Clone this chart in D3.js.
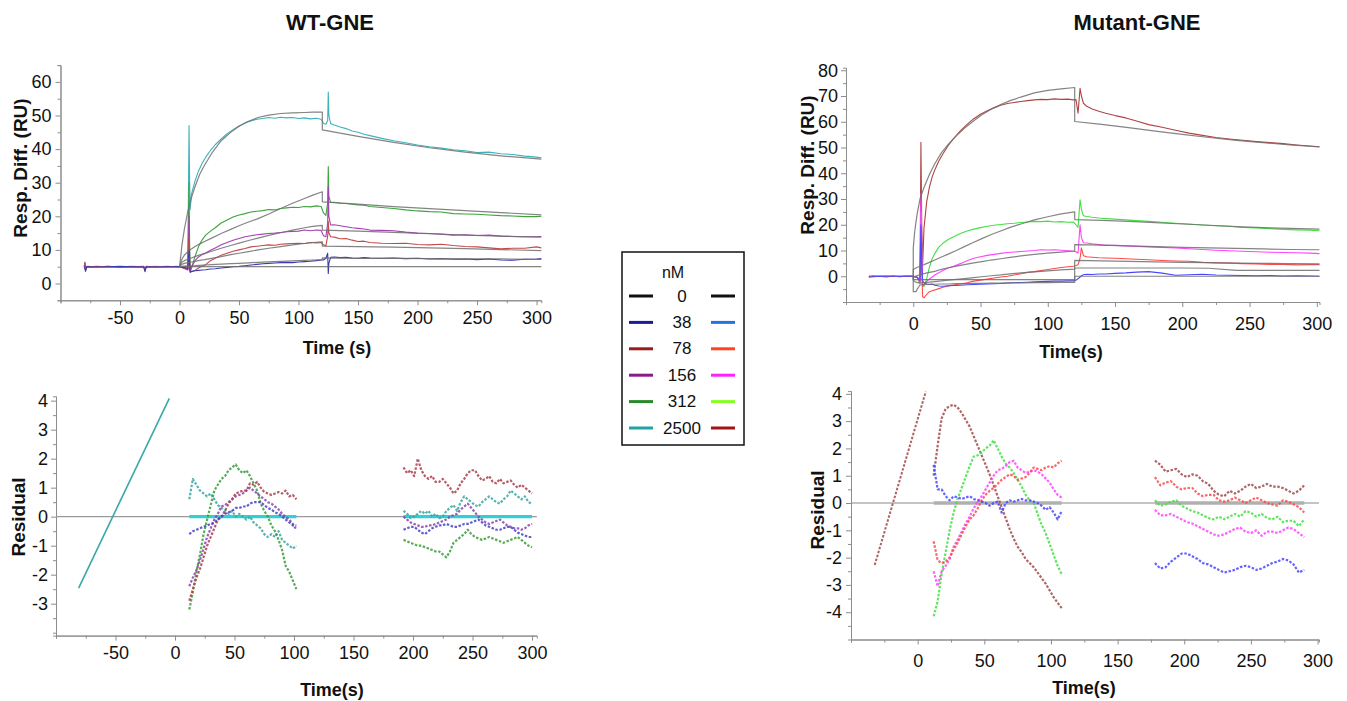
<!DOCTYPE html>
<html>
<head>
<meta charset="utf-8">
<script src="https://cdn.jsdelivr.net/npm/d3@7"></script>
<style>
  body { margin: 0; background: #fff; }
  svg { display: block; font-family: Arial, "Liberation Sans", sans-serif; }
</style>
</head>
<body>
<svg id="chart" width="1347" height="701"></svg>
<script>
// ---- legend ----
const conc = ["0", "38", "78", "156", "312", "2500"];
const wtLegendColors = ["#111111", "#1c1c96", "#981c1c", "#8a1c8a", "#2a8a2a", "#1fa3a3"];
const mtLegendColors = ["#111111", "#2275e0", "#ff4422", "#ff22ff", "#88ff22", "#a01414"];

// ---- WT-GNE sensorgrams (time in s, response in RU) ----
const wtTime = [-80, -79.5, -79, -78, -70, -60, -50, -40, -30, -29, -28, -20, -10, -2, 0,
  4, 7, 8, 8.5, 9, 10,
  13, 16, 19, 22, 26, 30,
  35, 40, 45, 50, 55, 60,
  65, 70, 75, 80, 85, 90,
  95, 100, 105, 110, 115, 119,
  121, 123, 124.5, 125, 125.5, 127,
  130, 135, 140, 145, 150, 155,
  160, 170, 180, 190, 200, 210,
  220, 230, 240, 250, 260, 270,
  280, 290, 300, 304];
const wt2500 = [5.2, 6.4, 3.9, 5.0, 4.9, 5.1, 4.8, 5.0, 4.9, 3.8, 5.0, 5.1, 4.9, 5.0, 5.1,
  5.0, 5.3, 47.0, 30.0, 22.0, 26.5,
  30.5, 33.5, 35.8, 37.6, 39.6, 41.3,
  43.0, 44.6, 45.8, 46.9, 47.8, 48.4,
  48.9, 49.1, 49.4, 49.2, 49.5, 49.3,
  49.4, 49.1, 49.3, 49.0, 49.2, 48.9,
  47.6, 47.4, 48.5, 57.0, 50.0, 47.6,
  47.2, 46.6, 46.1, 45.4, 45.0, 44.4,
  44.0, 43.2, 42.5, 41.9, 41.2, 40.7,
  40.3, 39.8, 39.5, 39.0, 39.1, 38.6,
  38.4, 37.9, 37.6, 37.4];
const wt312 = [5.0, 6.0, 4.1, 5.1, 5.0, 4.9, 5.0, 5.1, 5.0, 4.0, 5.1, 4.9, 5.0, 5.1, 5.0,
  4.6, 4.2, 30.0, 12.0, 3.8, 4.5,
  8.0, 11.0, 13.0, 14.4, 15.6, 16.6,
  18.0, 18.9, 19.8, 20.4, 20.8, 21.3,
  21.5, 21.7, 22.0, 21.9, 22.3, 22.5,
  22.7, 22.6, 22.9, 22.8, 23.1, 22.9,
  21.0, 20.3, 24.0, 34.8, 26.0, 24.1,
  24.2, 23.9, 23.8, 23.6, 23.4, 23.3,
  22.9, 22.6, 22.3, 21.9, 21.6, 21.4,
  21.3, 20.8, 20.7, 20.6, 20.4, 20.2,
  20.1, 19.9, 19.9, 20.0];
const wt156 = [4.9, 5.8, 4.2, 5.0, 5.0, 5.1, 4.9, 5.0, 5.1, 4.1, 5.0, 5.0, 5.1, 4.9, 5.0,
  4.5, 4.0, 20.0, 8.0, 3.6, 4.8,
  6.8, 7.9, 8.6, 9.1, 9.9, 10.6,
  11.5, 12.2, 12.9, 13.4, 13.9, 14.2,
  14.5, 14.7, 14.9, 15.0, 15.2, 15.4,
  15.5, 15.6, 15.9, 15.7, 15.9, 15.8,
  14.2, 13.9, 18.0, 28.8, 20.0, 17.4,
  17.5, 17.2, 16.9, 16.6, 16.4, 16.2,
  15.9, 15.8, 15.7, 15.3, 15.0, 14.9,
  14.7, 14.4, 14.5, 14.3, 14.4, 14.1,
  14.0, 13.9, 13.9, 14.0];
const wt78 = [5.0, 6.2, 3.8, 4.9, 5.1, 5.0, 5.0, 4.9, 5.0, 3.9, 4.9, 5.0, 5.0, 5.0, 4.9,
  4.6, 4.3, 14.0, 6.0, 3.4, 3.5,
  3.9, 4.6, 5.2, 5.6, 6.8, 7.5,
  8.4, 9.0, 9.6, 10.0, 10.4, 10.9,
  11.1, 11.3, 11.5, 11.4, 11.7, 11.8,
  11.9, 12.0, 11.9, 12.2, 12.1, 12.2,
  11.5, 11.2, 14.0, 18.5, 15.0, 13.9,
  13.8, 13.3, 13.4, 12.9, 12.5, 12.6,
  12.2, 12.0, 11.9, 12.0, 11.6, 11.5,
  11.7, 11.3, 11.0, 10.9, 10.6, 10.3,
  10.5, 10.5, 10.9, 10.6];
const wt38 = [5.1, 4.5, 3.6, 5.0, 4.9, 5.0, 5.1, 5.0, 4.9, 3.5, 5.0, 4.9, 5.0, 5.0, 5.0,
  4.8, 4.5, 10.0, 5.0, 3.3, 3.6,
  3.8, 3.9, 4.0, 4.1, 4.3, 4.4,
  4.6, 4.8, 5.0, 5.1, 5.3, 5.5,
  5.7, 5.9, 6.0, 6.1, 6.2, 6.3,
  6.2, 6.4, 6.5, 6.6, 6.8, 7.0,
  7.0, 7.5, 9.0, 3.0, 6.0, 7.8,
  7.9, 7.7, 7.8, 7.6, 7.5, 7.7,
  7.6, 7.5, 7.6, 7.4, 7.5, 7.3,
  7.4, 7.2, 7.3, 7.1, 7.3, 7.0,
  6.9, 7.2, 7.3, 7.4];

// WT fitted curves
const wtFitTime = [0, 1, 2, 4, 7, 10, 13, 17, 21, 27, 35, 43, 50, 58, 66, 75, 85, 95, 105, 112, 120, 120, 150, 180, 210, 240, 270, 304];
const wtFit2500 = [5, 8, 11.3, 16, 21.5, 25.5, 28.8, 32.5, 35.2, 38.7, 42.5, 45.0, 46.8, 48.3, 49.4, 50.1, 50.6, 50.8, 50.9, 51.0, 51.0, 45.7, 43.8, 42.0, 40.4, 39.1, 38.0, 37.0];
const wtFit312 = [5, 6.2, 7.2, 8.4, 9.5, 10.3, 11.0, 11.8, 12.5, 13.5, 14.9, 16.1, 17.2, 18.3, 19.3, 20.7, 22.3, 23.9, 25.3, 26.3, 27.3, 24.3, 23.6, 22.9, 22.3, 21.7, 21.1, 20.4];
const wtFit156 = [5, 5.8, 6.3, 6.8, 7.2, 7.6, 8.0, 8.5, 8.9, 9.6, 10.5, 11.3, 12.0, 12.8, 13.5, 14.3, 15.1, 15.9, 16.6, 17.0, 17.3, 15.9, 15.6, 15.2, 14.8, 14.4, 14.1, 13.8];
const wtFit78 = [5, 5.4, 5.7, 6.0, 6.2, 6.4, 6.6, 6.9, 7.1, 7.5, 8.0, 8.6, 9.0, 9.5, 10.0, 10.5, 11.0, 11.5, 11.9, 12.2, 12.4, 11.1, 11.0, 10.8, 10.6, 10.4, 10.1, 9.8];
const wtFit38 = [5, 5.05, 5.1, 5.15, 5.2, 5.25, 5.3, 5.4, 5.5, 5.6, 5.75, 5.9, 6.0, 6.15, 6.3, 6.45, 6.6, 6.75, 6.9, 7.0, 7.1, 7.6, 7.5, 7.45, 7.4, 7.35, 7.3, 7.2];
const wtFit0 = [5, 5, 5, 5, 5, 5, 5, 5, 5, 5, 5, 5, 5, 5, 5, 5, 5, 5, 5, 5, 5, 5, 5, 5, 5, 5, 5, 5];

// ---- Mutant-GNE sensorgrams ----
const mtTime = [-33, -30, -25, -20, -15, -10, -5, 0,
  3, 5, 5.7, 6.3, 7, 8,
  10, 12, 14, 16, 19, 22,
  26, 30, 35, 40, 45, 50,
  55, 60, 65, 70, 75, 80,
  85, 90, 95, 100, 105, 110,
  115, 119, 121, 122.5, 124, 125,
  126.5, 129, 133, 138, 143, 150,
  158, 166, 175, 185, 195, 205,
  215, 225, 235, 245, 255, 265,
  275, 285, 295, 302];
const mt2500 = [-0.3, 0.2, -0.1, 0.1, 0.0, -0.2, 0.1, 0.0,
  -0.5, -2.0, 52.0, 20.0, 5.0, 18.8,
  29.0, 34.5, 38.5, 41.3, 44.8, 47.5,
  50.8, 53.5, 56.5, 59.0, 61.2, 62.9,
  64.3, 65.4, 66.4, 67.1, 67.5, 67.9,
  68.2, 68.5, 68.7, 68.6, 68.9, 68.7,
  68.8, 68.5, 68.6, 63.3, 73.0, 70.0,
  67.2, 66.0, 65.0, 64.1, 63.3, 62.4,
  61.5, 60.3, 58.9, 57.9, 56.7, 55.6,
  54.7, 53.9, 53.3, 52.8, 52.3, 51.9,
  51.5, 51.0, 50.6, 50.3];
const mt312 = [0.1, -0.2, 0.0, 0.2, -0.1, 0.0, 0.1, 0.0,
  -0.5, -3.0, 25.0, 10.0, -3.5, -4.0,
  -1.0, 3.5, 6.8, 8.8, 11.3, 12.8,
  14.3, 15.3, 16.6, 17.6, 18.3, 18.9,
  19.4, 19.8, 20.1, 20.4, 20.6, 20.9,
  21.1, 21.3, 21.2, 21.4, 21.1, 21.2,
  21.0, 21.1, 20.0, 19.0, 29.7, 26.0,
  23.5, 23.2, 22.9, 22.6, 22.4, 22.2,
  21.9, 21.6, 21.3, 21.0, 20.6, 20.3,
  19.9, 19.6, 19.4, 19.0, 18.8, 18.5,
  18.2, 18.0, 17.9, 17.7];
const mt156 = [0.0, 0.1, -0.1, 0.0, 0.1, -0.1, 0.0, 0.0,
  -0.3, -2.5, 32.0, 12.0, -4.0, -3.2,
  -2.0, -1.0, -0.4, 0.5, 1.4, 2.2,
  3.2, 3.9, 4.9, 6.0, 7.0, 7.6,
  8.1, 8.5, 8.9, 9.2, 9.4, 9.6,
  9.8, 10.0, 10.3, 10.2, 10.3, 10.1,
  9.9, 9.7, 9.5, 9.0, 20.0, 15.0,
  13.0, 12.9, 12.6, 12.3, 12.0, 12.0,
  11.8, 11.6, 11.4, 11.2, 11.0, 10.7,
  10.4, 10.1, 9.9, 9.7, 9.5, 9.3,
  9.2, 9.1, 9.0, 8.8];
const mt78 = [0.0, -0.1, 0.1, 0.0, -0.1, 0.1, 0.0, 0.0,
  -0.4, -2.0, 12.0, 2.0, -8.0, -8.4,
  -7.0, -6.0, -5.6, -5.3, -4.8, -4.3,
  -3.8, -3.4, -3.0, -2.5, -1.9, -1.5,
  -1.1, -0.7, -0.3, 0.0, 0.5, 1.0,
  1.5, 1.8, 2.2, 2.6, 3.0, 3.4,
  3.7, 3.9, 4.2, 4.5, 7.0, 11.0,
  8.0, 7.6, 7.4, 7.2, 7.1, 7.0,
  6.8, 6.6, 6.4, 6.1, 5.9, 5.8,
  5.4, 5.2, 5.1, 4.9, 4.8, 4.6,
  4.6, 4.4, 4.5, 4.5];
const mt38 = [-0.4, -0.2, 0.0, -0.3, 0.1, -0.1, 0.0, 0.0,
  -0.5, -1.5, 20.0, 5.0, -1.9, -2.5,
  -3.0, -3.2, -3.0, -3.5, -3.8, -3.9,
  -3.7, -3.6, -3.5, -3.3, -3.2, -3.1,
  -3.0, -2.9, -2.8, -2.6, -2.5, -2.4,
  -2.3, -2.2, -2.1, -2.0, -1.9, -1.9,
  -1.8, -1.8, -1.5, -1.0, -0.3, 0.2,
  0.6, 0.8, 0.7, 0.9, 0.9, 1.1,
  1.3, 1.6, 1.8, 1.2, 0.4, 0.6,
  0.8, 0.5, 0.4, 0.3, 0.2, 0.3,
  0.1, 0.2, 0.1, 0.0];

// Mutant fitted curves
const mtFitTime = [0, 0, 1, 2, 3, 5, 8, 12, 16, 21, 26, 32, 38, 45, 51, 58, 65, 72, 80, 90, 100, 110, 120, 120, 140, 160, 180, 200, 220, 240, 260, 280, 302];
const mtFit2500 = [0, 11, 17, 21, 24.5, 30, 34.5, 39.5, 43.7, 48, 51.2, 54.5, 57.5, 60.4, 62.7, 64.9, 66.7, 68.2, 69.6, 71.2, 72.2, 72.8, 73.3, 60.1, 59.0, 57.7, 56.4, 55.1, 53.9, 52.8, 51.9, 51.0, 50.2];
const mtFit312 = [0, 2.6, 2.9, 3.2, 3.5, 3.9, 4.5, 5.4, 6.3, 7.5, 8.6, 10.0, 11.5, 13.2, 14.6, 16.2, 17.6, 19.0, 20.3, 21.9, 23.1, 24.2, 25.0, 22.0, 21.7, 21.3, 20.8, 20.3, 19.8, 19.3, 18.9, 18.6, 18.3];
const mtFit156 = [0, -0.5, -0.2, 0.1, 0.3, 0.6, 1.0, 1.5, 1.9, 2.7, 3.3, 3.9, 4.5, 5.2, 5.7, 6.3, 6.8, 7.3, 7.9, 8.5, 9.0, 9.4, 9.8, 12.3, 12.1, 11.8, 11.5, 11.2, 11.0, 10.8, 10.6, 10.4, 10.3];
const mtFit78 = [0, -1.5, -2.0, -2.3, -2.5, -2.6, -2.5, -2.3, -2.1, -1.8, -1.5, -1.2, -0.9, -0.5, -0.2, 0.2, 0.5, 0.9, 1.3, 1.7, 2.1, 2.5, 2.8, 6.2, 6.0, 5.8, 5.6, 5.4, 5.3, 5.1, 5.0, 4.9, 4.8];
const mtFit38 = [0, -6.0, -6.0, -6.0, -5.0, -3.4, -3.2, -3.1, -3.1, -3.0, -3.0, -2.9, -2.9, -2.8, -2.8, -2.7, -2.7, -2.6, -2.6, -2.5, -2.5, -2.4, -2.4, 3.2, 3.2, 3.2, 3.2, 3.2, 3.1, 2.3, 2.3, 2.3, 2.3];
const mtFit0 = [0, -1.3, -1.3, -1.3, -1.3, -1.3, -1.3, -1.3, -1.3, -1.3, -1.3, -1.3, -1.3, -1.3, -1.3, -1.3, -1.3, -1.3, -1.3, -1.3, -1.3, -1.3, -1.3, 0, 0, 0, 0, 0, 0, 0, 0, 0, 0];

// ---- WT residuals ----
const wtResLineT = [-81, -4.8];
const wtResLine = [-2.46, 4.08];
const wtResAssocT = [12, 15, 18, 21, 24, 27, 30, 33, 36, 39, 42, 45, 48, 51, 54, 57, 60, 63, 66, 69, 72, 75, 78, 81, 84, 87, 90, 93, 96, 99, 102];
const wtResDissT = [192, 195, 198, 201, 204, 207, 210, 213, 216, 219, 222, 225, 228, 231, 234, 237, 240, 243, 246, 249, 252, 255, 258, 261, 264, 267, 270, 273, 276, 279, 282, 285, 288, 291, 294, 297, 300];
const wtResA2500 = [0.6, 1.3, 1.1, 0.9, 0.8, 0.7, 0.8, 0.6, 0.4, 0.3, 0.2, 0.1, 0.2, 0.0, 0.1, 0.0, -0.1, 0.0, -0.2, -0.3, -0.4, -0.6, -0.7, -0.6, -0.7, -0.5, -0.8, -0.9, -1.0, -1.1, -1.0];
const wtResA312 = [-3.2, -2.6, -1.9, -1.3, -0.6, -0.1, 0.4, 0.9, 1.1, 1.3, 1.4, 1.6, 1.7, 1.8, 1.6, 1.5, 1.6, 1.4, 1.15, 0.9, 0.45, 0.2, 0.0, -0.3, -0.5, -0.8, -1.15, -1.7, -1.9, -2.2, -2.5];
const wtResA156 = [-2.4, -2.1, -1.85, -1.5, -1.1, -0.7, -0.4, -0.1, 0.1, 0.35, 0.4, 0.5, 0.6, 0.7, 0.75, 0.8, 0.9, 1.0, 0.9, 0.8, 0.7, 0.6, 0.5, 0.45, 0.35, 0.25, 0.1, 0.0, -0.1, -0.25, -0.45];
const wtResA78 = [-2.9, -2.5, -2.1, -1.8, -1.4, -1.0, -0.7, -0.4, -0.1, 0.0, 0.2, 0.45, 0.6, 0.8, 0.85, 0.9, 0.9, 1.15, 1.1, 1.2, 1.0, 0.85, 0.8, 0.75, 0.8, 0.85, 0.8, 0.9, 0.7, 0.75, 0.6];
const wtResA38 = [-0.6, -0.5, -0.45, -0.4, -0.35, -0.3, -0.25, -0.2, -0.1, 0.0, 0.1, 0.15, 0.2, 0.3, 0.3, 0.35, 0.35, 0.45, 0.5, 0.5, 0.5, 0.4, 0.3, 0.25, 0.15, 0.1, 0.0, -0.1, -0.2, -0.3, -0.3];
const wtResD2500 = [0.2, 0.1, -0.05, 0.0, 0.1, 0.2, 0.1, 0.2, 0.0, 0.1, -0.05, 0.0, 0.2, 0.3, 0.4, 0.2, 0.5, 0.7, 0.6, 0.5, 0.4, 0.35, 0.5, 0.6, 0.7, 0.6, 0.5, 0.45, 0.6, 0.7, 0.9, 0.8, 0.7, 0.6, 0.7, 0.5, 0.45];
const wtResD312 = [-0.8, -0.85, -0.9, -0.95, -1.0, -1.0, -1.05, -1.1, -1.15, -1.2, -1.2, -1.3, -1.4, -1.2, -0.9, -0.8, -0.7, -0.6, -0.45, -0.6, -0.7, -0.75, -0.8, -0.75, -0.7, -0.75, -0.8, -0.85, -0.9, -0.85, -0.8, -0.75, -0.7, -0.8, -0.9, -1.0, -1.05];
const wtResD156 = [0.0, -0.1, -0.2, -0.25, -0.3, -0.35, -0.35, -0.3, -0.3, -0.25, -0.2, -0.15, -0.1, 0.0, 0.05, 0.1, 0.25, 0.35, 0.45, 0.3, 0.15, 0.0, -0.1, -0.2, -0.25, -0.2, -0.15, -0.1, -0.2, -0.3, -0.35, -0.4, -0.4, -0.45, -0.4, -0.3, -0.25];
const wtResD78 = [1.7, 1.5, 1.6, 1.4, 2.0, 1.6, 1.4, 1.3, 1.4, 1.2, 1.2, 1.3, 1.15, 1.0, 0.8, 0.9, 1.15, 1.3, 1.5, 1.6, 1.6, 1.4, 1.25, 1.3, 1.4, 1.2, 1.15, 1.3, 1.15, 1.2, 1.25, 1.1, 1.0, 1.1, 1.0, 0.9, 0.8];
const wtResD38 = [-0.45, -0.4, -0.35, -0.35, -0.45, -0.55, -0.6, -0.5, -0.4, -0.35, -0.3, -0.3, -0.25, -0.3, -0.35, -0.35, -0.3, -0.25, -0.25, -0.2, -0.15, -0.1, -0.2, -0.3, -0.35, -0.4, -0.45, -0.45, -0.4, -0.35, -0.35, -0.45, -0.55, -0.6, -0.65, -0.7, -0.7];

// ---- Mutant residuals ----
const mtResLineT = [-32.2, 6.1];
const mtResLine = [-2.27, 4.08];
const mtResAssocT = [12, 15, 18, 21, 24, 27, 30, 33, 36, 39, 42, 45, 48, 51, 54, 57, 60, 63, 66, 69, 72, 75, 78, 81, 84, 87, 90, 93, 96, 99, 102, 105, 108];
const mtResDissT = [178, 182, 186, 190, 194, 198, 202, 206, 210, 214, 218, 222, 226, 230, 234, 238, 242, 246, 250, 254, 258, 262, 266, 270, 274, 278, 282, 286, 290];
const mtResA2500 = [1.0, 2.1, 3.1, 3.45, 3.55, 3.6, 3.5, 3.3, 3.05, 2.8, 2.45, 2.1, 1.75, 1.4, 1.05, 0.65, 0.25, -0.15, -0.55, -0.95, -1.3, -1.6, -1.8, -2.05, -2.2, -2.35, -2.55, -2.75, -2.95, -3.2, -3.45, -3.65, -3.85];
const mtResA312 = [-4.15, -3.6, -2.6, -1.8, -1.0, -0.35, 0.15, 0.55, 0.95, 1.35, 1.7, 1.75, 1.85, 2.0, 2.1, 2.3, 2.0, 1.7, 1.45, 1.3, 1.1, 0.85, 0.6, 0.3, 0.1, 0.0, -0.4, -0.8, -1.1, -1.5, -1.9, -2.3, -2.6];
const mtResA156 = [-2.5, -3.05, -2.5, -2.3, -2.05, -1.6, -1.35, -1.05, -0.75, -0.5, -0.2, 0.05, 0.25, 0.5, 0.75, 1.0, 1.2, 1.25, 1.35, 1.5, 1.55, 1.3, 1.2, 1.1, 1.15, 1.2, 1.15, 1.05, 0.9, 0.75, 0.5, 0.3, 0.2];
const mtResA78 = [-1.4, -2.1, -2.2, -2.15, -2.0, -1.7, -1.45, -1.15, -0.85, -0.6, -0.45, -0.2, 0.1, 0.3, 0.45, 0.55, 0.7, 0.85, 0.95, 1.05, 1.0, 0.85, 0.9, 0.95, 1.1, 1.3, 1.25, 1.2, 1.3, 1.35, 1.3, 1.45, 1.55];
const mtResA38 = [1.4, 0.5, 0.5, 0.25, 0.1, 0.25, 0.2, 0.15, 0.2, 0.25, 0.15, 0.1, 0.05, 0.0, -0.1, 0.0, 0.05, -0.35, 0.0, 0.1, 0.05, 0.1, 0.15, 0.1, 0.1, 0.05, 0.0, -0.1, -0.25, -0.15, -0.35, -0.6, -0.3];
const mtResD2500 = [1.55, 1.4, 1.15, 1.2, 1.25, 1.05, 0.95, 1.05, 1.0, 0.8, 0.7, 0.45, 0.3, 0.25, 0.45, 0.35, 0.45, 0.6, 0.7, 0.55, 0.6, 0.7, 0.6, 0.6, 0.55, 0.45, 0.35, 0.45, 0.65];
const mtResD312 = [0.1, -0.1, -0.05, 0.05, 0.1, -0.1, -0.2, -0.3, -0.35, -0.45, -0.55, -0.6, -0.5, -0.6, -0.5, -0.4, -0.5, -0.3, -0.35, -0.5, -0.4, -0.55, -0.6, -0.5, -0.7, -0.65, -0.65, -0.85, -0.6];
const mtResD156 = [-0.25, -0.45, -0.45, -0.4, -0.5, -0.6, -0.7, -0.75, -0.85, -0.95, -1.05, -1.15, -1.2, -1.15, -1.05, -0.95, -0.9, -1.05, -1.1, -1.0, -1.2, -1.05, -1.05, -1.1, -1.0, -0.9, -0.95, -1.1, -1.25];
const mtResD78 = [0.95, 0.65, 0.75, 0.8, 0.6, 0.5, 0.55, 0.55, 0.35, 0.25, 0.3, 0.3, 0.1, 0.05, 0.1, 0.2, 0.1, 0.0, 0.1, 0.2, 0.1, 0.0, -0.05, -0.1, 0.1, 0.05, -0.05, -0.15, -0.35];
const mtResD38 = [-2.2, -2.4, -2.35, -2.15, -2.0, -1.85, -1.85, -1.95, -2.05, -2.2, -2.25, -2.35, -2.45, -2.55, -2.5, -2.45, -2.35, -2.3, -2.35, -2.45, -2.4, -2.3, -2.2, -2.15, -2.05, -2.1, -2.25, -2.55, -2.45];

// ---- tick values ----
const wtTopYTicks = [0, 10, 20, 30, 40, 50, 60];
const wtTopYMinor = [-5, 5, 15, 25, 35, 45, 55, 65];
const mtTopYTicks = [0, 10, 20, 30, 40, 50, 60, 70, 80];
const mtTopYMinor = [-10, -5, 5, 15, 25, 35, 45, 55, 65, 75];
const wtXTicks = [-50, 0, 50, 100, 150, 200, 250, 300];
const wtXMinor = [-100, -75, -25, 25, 75, 125, 175, 225, 275];
const mtXTicks = [0, 50, 100, 150, 200, 250, 300];
const mtXMinor = [-50, -25, 25, 75, 125, 175, 225, 275];
const wtResYTicks = [-3, -2, -1, 0, 1, 2, 3, 4];
const wtResYMinor = [-4, -3.5, -2.5, -1.5, -0.5, 0.5, 1.5, 2.5, 3.5];
const mtResYTicks = [-4, -3, -2, -1, 0, 1, 2, 3, 4];
const mtResYMinor = [-4.5, -3.5, -2.5, -1.5, -0.5, 0.5, 1.5, 2.5, 3.5];

const svg = d3.select("#chart");
const axisGrey = "#8d8d8d";
const plain = d => String(d);   // hyphen-minus, as in the figure

function panel(p) {
	const x = d3.scaleLinear(p.xDomain, [p.left, p.right]);
	const y = d3.scaleLinear(p.yDomain, [p.bottom, p.top]);
	const g = svg.append("g");

	const styleAxis = (sel) => {
		sel.attr("font-size", 18).attr("font-family", "Arial, 'Liberation Sans', sans-serif");
		sel.selectAll(".domain").attr("stroke", axisGrey);
		sel.selectAll(".tick line").attr("stroke", axisGrey);
		sel.selectAll(".tick text").attr("fill", "#111");
	};

	g.append("g")
		.attr("transform", `translate(0,${p.bottom})`)
		.call(d3.axisBottom(x).tickValues(p.xMinor).tickSize(3).tickFormat(""))
		.call(styleAxis);
	g.append("g")
		.attr("transform", `translate(0,${p.bottom})`)
		.call(d3.axisBottom(x).tickValues(p.xTicks).tickSize(5).tickSizeOuter(0).tickPadding(p.xPad).tickFormat(plain))
		.call(styleAxis);
	g.append("g")
		.attr("transform", `translate(${p.left},0)`)
		.call(d3.axisLeft(y).tickValues(p.yMinor).tickSize(3).tickFormat(""))
		.call(styleAxis);
	g.append("g")
		.attr("transform", `translate(${p.left},0)`)
		.call(d3.axisLeft(y).tickValues(p.yTicks).tickSize(5).tickSizeOuter(0).tickPadding(p.yPad).tickFormat(plain))
		.call(styleAxis);

	g.append("text")
		.attr("x", p.xLabel[0]).attr("y", p.xLabel[1])
		.attr("text-anchor", "middle").attr("dominant-baseline", "central")
		.attr("font-size", 18).attr("font-weight", "bold").attr("fill", "#111")
		.text(p.xTitle);
	g.append("text")
		.attr("transform", `translate(${p.yLabel[0]},${p.yLabel[1]}) rotate(-90)`)
		.attr("text-anchor", "middle").attr("dominant-baseline", "central")
		.attr("font-size", 19).attr("font-weight", "bold").attr("fill", "#111")
		.text(p.yTitle);

	return { x, y, g: g.append("g") };
}

function drawLine(pn, t, v, color, width, extra) {
	const line = d3.line().x(d => pn.x(d[0])).y(d => pn.y(d[1]));
	const path = pn.g.append("path")
		.datum(d3.zip(t, v))
		.attr("fill", "none")
		.attr("stroke", color)
		.attr("stroke-width", width)
		.attr("stroke-linejoin", "round")
		.attr("d", line);
	if (extra) extra(path);
	return path;
}

const dotted = (p) => p.attr("stroke-dasharray", "2.5,1.6").attr("opacity", 0.85);

// ---------- WT top ----------
const wtTop = panel({
	left: 60.5, right: 541.3, top: 65.1, bottom: 300.3,
	xDomain: [-100, 304], yDomain: [-5, 65],
	xTicks: wtXTicks, xMinor: wtXMinor, yTicks: wtTopYTicks, yMinor: wtTopYMinor,
	xPad: 6, yPad: 4,
	xTitle: "Time (s)", xLabel: [337, 348],
	yTitle: "Resp. Diff. (RU)", yLabel: [20, 168]
});
[[wt2500, "#3eb2ba"], [wt312, "#3da33d"], [wt156, "#a640b4"], [wt78, "#c44a4a"], [wt38, "#3a3ab4"]]
	.forEach(([v, c]) => drawLine(wtTop, wtTime, v, c, 1.1));
[wtFit2500, wtFit312, wtFit156, wtFit78, wtFit38, wtFit0]
	.forEach(v => drawLine(wtTop, wtFitTime, v, "#6e6e6e", 1.2, p => p.attr("opacity", 0.85)));

// ---------- Mutant top ----------
const mtTop = panel({
	left: 846, right: 1319.5, top: 67.7, bottom: 302,
	xDomain: [-50, 302], yDomain: [-10, 81],
	xTicks: mtXTicks, xMinor: mtXMinor, yTicks: mtTopYTicks, yMinor: mtTopYMinor,
	xPad: 10, yPad: 3,
	xTitle: "Time(s)", xLabel: [1071, 352],
	yTitle: "Resp. Diff. (RU)", yLabel: [807, 165]
});
[[mt2500, "#b04444"], [mt312, "#44e044"], [mt156, "#ff44ff"], [mt78, "#ff4a4a"], [mt38, "#4848ff"]]
	.forEach(([v, c]) => drawLine(mtTop, mtTime, v, c, 1.1));
[mtFit2500, mtFit312, mtFit156, mtFit78, mtFit38, mtFit0]
	.forEach(v => drawLine(mtTop, mtFitTime, v, "#6e6e6e", 1.2, p => p.attr("opacity", 0.85)));

// ---------- WT residual ----------
const wtRes = panel({
	left: 56, right: 536.8, top: 396.3, bottom: 635.6,
	xDomain: [-100, 304], yDomain: [-4.1, 4.15],
	xTicks: wtXTicks, xMinor: wtXMinor, yTicks: wtResYTicks, yMinor: wtResYMinor,
	xPad: 6, yPad: 3,
	xTitle: "Time(s)", xLabel: [332, 690],
	yTitle: "Residual", yLabel: [18, 517]
});
drawLine(wtRes, [-100, 304], [0, 0], "#9a9a9a", 1.2);
drawLine(wtRes, [12, 102], [0, 0], "#2fd0d6", 3.2);
drawLine(wtRes, [192, 300], [0, 0], "#2fd0d6", 3.2);
drawLine(wtRes, wtResLineT, wtResLine, "#3aa8a8", 1.6);
[[wtResA2500, wtResD2500, "#3aa6a6"], [wtResA312, wtResD312, "#3c9c3c"], [wtResA156, wtResD156, "#8a44b0"],
	[wtResA78, wtResD78, "#a8404c"], [wtResA38, wtResD38, "#4444c4"]]
	.forEach(([a, d, c]) => {
		drawLine(wtRes, wtResAssocT, a, c, 2.2, dotted);
		drawLine(wtRes, wtResDissT, d, c, 2.2, dotted);
	});

// ---------- Mutant residual ----------
const mtRes = panel({
	left: 851, right: 1318.9, top: 391.1, bottom: 639.5,
	xDomain: [-50, 301], yDomain: [-5, 4.1],
	xTicks: mtXTicks, xMinor: mtXMinor, yTicks: mtResYTicks, yMinor: mtResYMinor,
	xPad: 10, yPad: 4,
	xTitle: "Time(s)", xLabel: [1084, 688],
	yTitle: "Residual", yLabel: [817, 510]
});
drawLine(mtRes, [-50, 301], [0, 0], "#8a8a8a", 1.2);
drawLine(mtRes, [12, 108], [0, 0], "#b0b0b0", 3.5);
drawLine(mtRes, [178, 290], [0, 0], "#b0b0b0", 3.5);
drawLine(mtRes, mtResLineT, mtResLine, "#a04848", 2, dotted);
[[mtResA2500, mtResD2500, "#a04a4a"], [mtResA312, mtResD312, "#44e044"], [mtResA156, mtResD156, "#ff44ff"],
	[mtResA78, mtResD78, "#ff4a4a"], [mtResA38, mtResD38, "#4848ff"]]
	.forEach(([a, d, c]) => {
		drawLine(mtRes, mtResAssocT, a, c, 2.2, dotted);
		drawLine(mtRes, mtResDissT, d, c, 2.2, dotted);
	});

// ---------- titles ----------
svg.append("text").attr("x", 330).attr("y", 22)
	.attr("text-anchor", "middle").attr("dominant-baseline", "central")
	.attr("font-size", 22).attr("font-weight", "bold").attr("fill", "#111")
	.text("WT-GNE");
svg.append("text").attr("x", 1137).attr("y", 22)
	.attr("text-anchor", "middle").attr("dominant-baseline", "central")
	.attr("font-size", 22).attr("font-weight", "bold").attr("fill", "#111")
	.text("Mutant-GNE");

// ---------- legend ----------
const legend = svg.append("g");
legend.append("rect")
	.attr("x", 622).attr("y", 252).attr("width", 122).attr("height", 193)
	.attr("fill", "#fff").attr("stroke", "#111").attr("stroke-width", 1.5);
legend.append("text").attr("x", 673).attr("y", 272)
	.attr("text-anchor", "middle").attr("dominant-baseline", "central")
	.attr("font-size", 16).attr("fill", "#111").text("nM");
const rowY = d3.scalePoint(conc, [296, 428]);
const rows = legend.selectAll(".row").data(conc).join("g").attr("class", "row");
rows.append("line")
	.attr("x1", 629).attr("x2", 653)
	.attr("y1", d => rowY(d)).attr("y2", d => rowY(d))
	.attr("stroke", (d, i) => wtLegendColors[i]).attr("stroke-width", 3);
rows.append("line")
	.attr("x1", 711).attr("x2", 735)
	.attr("y1", d => rowY(d)).attr("y2", d => rowY(d))
	.attr("stroke", (d, i) => mtLegendColors[i]).attr("stroke-width", 3);
rows.append("text")
	.attr("x", 682).attr("y", d => rowY(d))
	.attr("text-anchor", "middle").attr("dominant-baseline", "central")
	.attr("font-size", 17).attr("fill", "#111")
	.text(d => d);
</script>
</body>
</html>
